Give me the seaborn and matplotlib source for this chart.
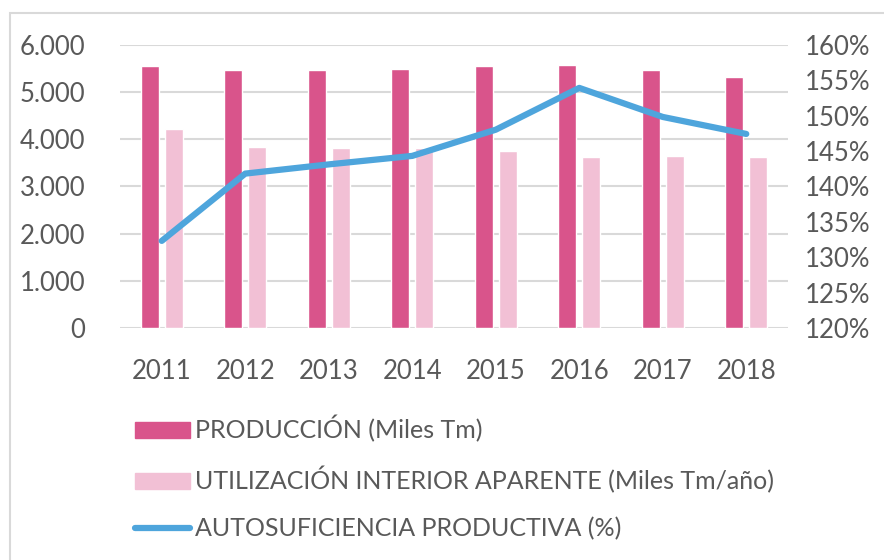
import matplotlib
matplotlib.use("Agg")
import matplotlib.pyplot as plt
import matplotlib.patches as mpatches
from matplotlib.lines import Line2D
from matplotlib.ticker import FuncFormatter, MultipleLocator
import seaborn as sns
import pandas as pd
import numpy as np

years = ["2011", "2012", "2013", "2014", "2015", "2016", "2017", "2018"]
produccion = [5550, 5465, 5465, 5495, 5550, 5580, 5465, 5325]
utilizacion = [4210, 3840, 3815, 3815, 3755, 3615, 3645, 3615]
autosuficiencia = [1.323, 1.418, 1.431, 1.443, 1.480, 1.539, 1.498, 1.474]

lab_prod = "PRODUCCIÓN (Miles Tm)"
lab_util = "UTILIZACIÓN INTERIOR APARENTE (Miles Tm/año)"
lab_auto = "AUTOSUFICIENCIA PRODUCTIVA (%)"

c_prod = "#D9548B"
c_util = "#F2C0D5"
c_line = "#4EA5DC"
c_text = "#595959"
c_grid = "#D9D9D9"

sns.set_theme(style="white")
plt.rcParams["font.family"] = ["Lato", "DejaVu Sans"]

df = pd.DataFrame({
    "year": years * 2,
    "value": produccion + utilizacion,
    "serie": [lab_prod] * len(years) + [lab_util] * len(years),
})

fig = plt.figure(figsize=(8.84, 5.6), dpi=100)
ax = fig.add_axes([120 / 884, 1 - 328 / 560, (788 - 120) / 884, (328 - 44.7) / 560])

sns.barplot(data=df, x="year", y="value", hue="serie", order=years,
            palette={lab_prod: c_prod, lab_util: c_util},
            width=0.576, gap=0.25, saturation=1, legend=False, ax=ax)
ax.set_ylim(0, 6000)
ax.yaxis.set_major_locator(MultipleLocator(1000))
ax.yaxis.set_major_formatter(FuncFormatter(lambda v, p: f"{int(v):,}".replace(",", ".")))
ax.grid(axis="y", color=c_grid, lw=1.5, zorder=0)
ax.set_axisbelow(True)
ax.set_xlim(-0.5, len(years) - 0.5)
ax.set_xlabel("")
ax.set_ylabel("")
for s in ax.spines.values():
    s.set_visible(False)
ax.tick_params(axis="both", length=0, labelsize=18.5, labelcolor=c_text)
ax.tick_params(axis="y", pad=25)
ax.tick_params(axis="x", pad=22)

ax2 = ax.twinx()
sns.lineplot(x=np.arange(len(years)), y=autosuficiencia, color=c_line, lw=4.5,
             solid_capstyle="round", ax=ax2)
ax2.set_ylim(1.2, 1.6)
ax2.yaxis.set_major_locator(MultipleLocator(0.05))
ax2.yaxis.set_major_formatter(FuncFormatter(lambda v, p: f"{v * 100:.0f}%"))
for s in ax2.spines.values():
    s.set_visible(False)
ax2.tick_params(axis="y", length=0, labelsize=18.5, labelcolor=c_text, pad=12)
ax2.set_xlim(-0.5, len(years) - 0.5)

handles = [
    mpatches.Patch(color=c_prod),
    mpatches.Patch(color=c_util),
    Line2D([0], [0], color=c_line, lw=4.5, solid_capstyle="round"),
]
leg = fig.legend(handles, [lab_prod, lab_util, lab_auto], loc="upper left",
                 bbox_to_anchor=(112 / 884, 1 - 393 / 560), frameon=False,
                 fontsize=18, handlelength=2.2, handleheight=0.64,
                 handletextpad=0.22, labelspacing=0.95)
for t in leg.get_texts():
    t.set_color(c_text)

border = mpatches.Rectangle((9.5 / 884, -0.1), 1.2, (560 - 13) / 560 + 0.1,
                            transform=fig.transFigure, fill=False,
                            edgecolor=c_grid, lw=1.5)
fig.patches.append(border)

fig.savefig("out.png", dpi=100)
